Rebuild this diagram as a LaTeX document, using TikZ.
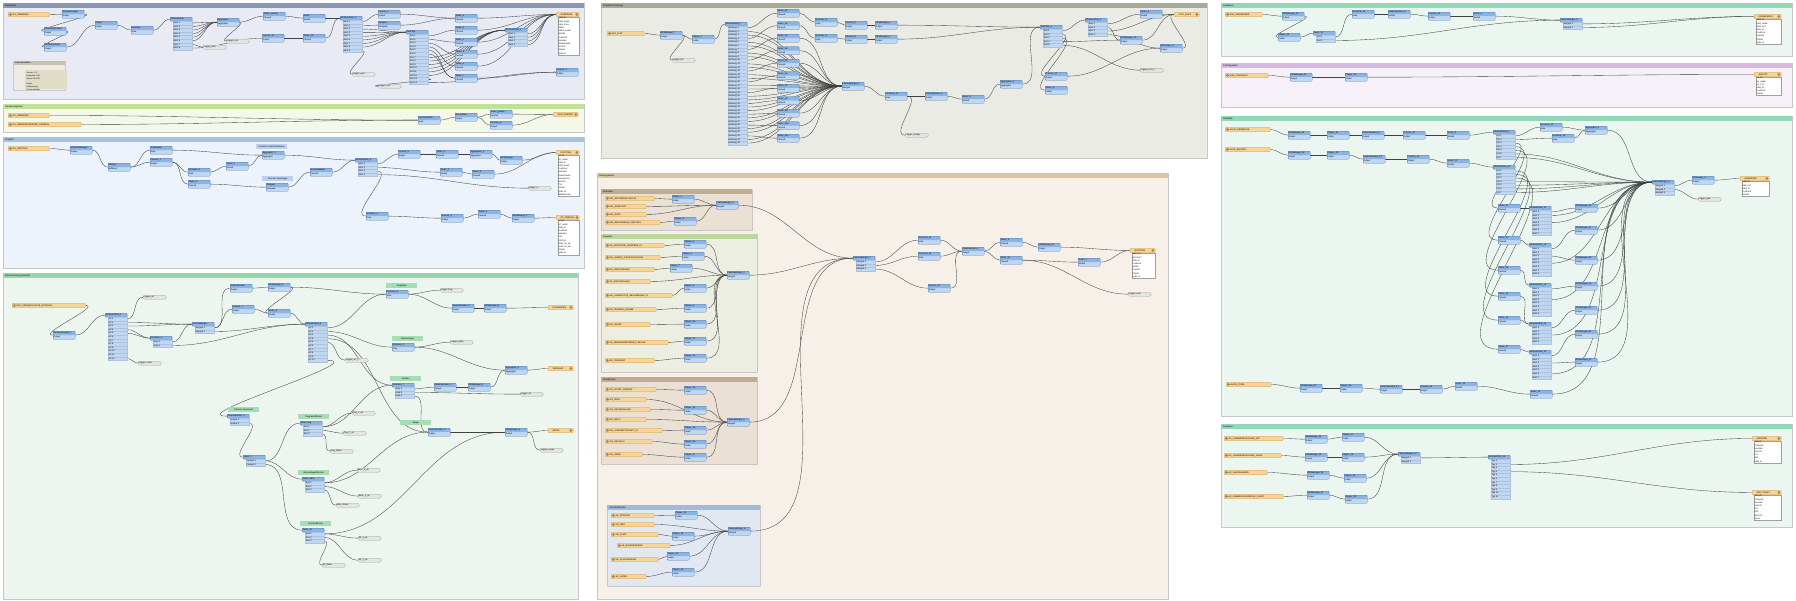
\documentclass[tikz,border=0pt]{standalone}
\usepackage{fontspec}
\setmainfont{Liberation Sans}
\usepackage{xcolor}
\usepackage{tikz}
\usetikzlibrary{positioning}
\definecolor{xfmhead}{RGB}{139, 180, 226}
\definecolor{xfmport}{RGB}{192, 215, 242}
\definecolor{xfmline}{RGB}{80, 120, 176}
\definecolor{rdrfill}{RGB}{247, 213, 152}
\definecolor{rdrline}{RGB}{204, 160, 88}
\definecolor{rdricon}{RGB}{168, 132, 78}
\definecolor{inspfill}{RGB}{228, 228, 225}
\definecolor{inspline}{RGB}{160, 160, 160}
\definecolor{notefill}{RGB}{166, 221, 180}
\definecolor{noteblue}{RGB}{186, 210, 238}
\definecolor{linkcol}{RGB}{65, 65, 65}
\definecolor{annhd}{RGB}{200, 195, 176}
\definecolor{annbg}{RGB}{236, 234, 226}
\definecolor{anntext}{RGB}{224, 219, 198}
\definecolor{hdA}{RGB}{140, 152, 178}
\definecolor{bgA}{RGB}{232, 235, 243}
\definecolor{hdB}{RGB}{192, 226, 150}
\definecolor{bgB}{RGB}{244, 248, 233}
\definecolor{hdC}{RGB}{163, 194, 226}
\definecolor{bgC}{RGB}{236, 243, 251}
\definecolor{hdD}{RGB}{150, 214, 172}
\definecolor{bgD}{RGB}{236, 246, 239}
\definecolor{hdE}{RGB}{168, 168, 156}
\definecolor{bgE}{RGB}{235, 235, 229}
\definecolor{hdF}{RGB}{214, 198, 162}
\definecolor{bgF}{RGB}{246, 240, 233}
\definecolor{hdG}{RGB}{190, 172, 148}
\definecolor{bgG}{RGB}{234, 224, 212}
\definecolor{hdH}{RGB}{188, 214, 160}
\definecolor{bgH}{RGB}{235, 238, 224}
\definecolor{hdI}{RGB}{160, 186, 222}
\definecolor{bgI}{RGB}{226, 232, 242}
\definecolor{hdJ}{RGB}{148, 214, 184}
\definecolor{bgJ}{RGB}{235, 246, 241}
\definecolor{hdK}{RGB}{214, 186, 226}
\definecolor{bgK}{RGB}{246, 241, 249}
\pgfdeclarelayer{bkmlayer}
\pgfdeclarelayer{linklayer}
\pgfsetlayers{bkmlayer,linklayer,main}

\begin{document}
\begin{tikzpicture}[
        x=1pt, y=-1pt,
        every node/.style={font=\fontsize{2.2}{2.7}\selectfont, inner sep=0.5pt},
        bkm/.style={draw=black!22, line width=0.3pt},
        bkmtitle/.style={anchor=west, inner sep=0pt, font=\fontsize{2.3}{2.7}\selectfont},
        xfm/.style={rectangle, draw=xfmline, fill=xfmport, line width=0.3pt, rounded corners=0.8pt, anchor=north west, text width=21pt, minimum height=8pt, align=left, font=\fontsize{2.2}{4}\selectfont, path picture={\fill[xfmhead] (path picture bounding box.north west) rectangle (path picture bounding box.east);}},
        xhead/.style={rectangle, draw=xfmline, fill=xfmhead, line width=0.3pt, rounded corners=0.8pt, anchor=north west, text width=21pt, minimum height=4pt, text height=1.6pt, text depth=0.4pt, align=left},
        xport/.style={rectangle, draw=xfmline!45, fill=xfmport, line width=0.15pt, anchor=north west, text width=18pt, minimum height=3.6pt, text height=1.6pt, text depth=0.4pt, align=left},
        rdr/.style={rectangle, draw=rdrline, fill=rdrfill, line width=0.3pt, rounded corners=1pt, anchor=north west, text width=#1, minimum height=4.6pt, text height=1.6pt, text depth=0.4pt, align=left, execute at begin node={\hspace*{4pt}}, path picture={\fill[rdricon] ([xshift=2.3pt]path picture bounding box.west) circle (1.5pt);}},
        wtr/.style={rdr=#1, path picture={\fill[rdricon] ([xshift=-2.3pt]path picture bounding box.east) circle (1.5pt);}},
        attr/.style={rectangle, draw=inspline, fill=white, line width=0.2pt, text width=#1, align=left, font=\fontsize{1.9}{3.2}\selectfont},
        insp/.style={rectangle, draw=inspline, fill=inspfill, line width=0.3pt, rounded corners=1.5pt, anchor=north west, text width=22pt, minimum height=4pt, text height=1.6pt, text depth=0.4pt, align=left},
        note/.style={rectangle, fill=notefill, anchor=north west, text width=30pt, minimum height=4.5pt, text height=1.6pt, text depth=0.4pt, align=center},
        link/.style={draw=linkcol, line width=0.35pt, out=0, in=180}
    ]
        \useasboundingbox (0,0) rectangle (1796,600);

        % Bookmarks
        \begin{pgfonlayer}{bkmlayer}
            \fill[white] (0,0) rectangle (1796,600);
            \draw[bkm, fill=bgA] (3,3) rectangle (584,99);
            \fill[hdA] (3,3) rectangle (584,8);
            \draw[bkm, fill=annbg] (13,61) rectangle (65,90);
            \fill[annhd] (13,61) rectangle (65,64.5);
            \fill[anntext] (25,70) rectangle (67,89);
            \draw[bkm, fill=bgB] (3,104) rectangle (584,132);
            \fill[hdB] (3,104) rectangle (584,109);
            \draw[bkm, fill=bgC] (3,137) rectangle (584,268);
            \fill[hdC] (3,137) rectangle (584,142);
            \draw[bkm, fill=bgD] (3,273) rectangle (578,599.5);
            \fill[hdD] (3,273) rectangle (578,278);
            \draw[bkm, fill=bgE] (601,3) rectangle (1207,158);
            \fill[hdE] (601,3) rectangle (1207,8);
            \draw[bkm, fill=bgF] (597,173) rectangle (1168,599.5);
            \fill[hdF] (597,173) rectangle (1168,178);
            \draw[bkm, fill=bgG] (601,189) rectangle (752,230);
            \fill[hdG] (601,189) rectangle (752,194);
            \draw[bkm, fill=bgH] (601,234) rectangle (757,372);
            \fill[hdH] (601,234) rectangle (757,239);
            \draw[bkm, fill=bgG] (601,377) rectangle (757,464);
            \fill[hdG] (601,377) rectangle (757,382);
            \draw[bkm, fill=bgI] (607,505) rectangle (760,586);
            \fill[hdI] (607,505) rectangle (760,510);
            \draw[bkm, fill=bgJ] (1221,3) rectangle (1792,56);
            \fill[hdJ] (1221,3) rectangle (1792,8);
            \draw[bkm, fill=bgK] (1221,63) rectangle (1792,107);
            \fill[hdK] (1221,63) rectangle (1792,68);
            \draw[bkm, fill=bgJ] (1221,116) rectangle (1792,416);
            \fill[hdJ] (1221,116) rectangle (1792,121);
            \draw[bkm, fill=bgJ] (1221,424) rectangle (1792,527);
            \fill[hdJ] (1221,424) rectangle (1792,429);
        \end{pgfonlayer}

        % Gemeinde
        \node (bkA) [bkmtitle] at (5,5.5) {Gemeinde};
        \node (bkAnn) [bkmtitle] at (15,62.8) {Dokumentation};
        \node (gNote) [anchor=north west, align=left, font=\fontsize{1.9}{3}\selectfont] at (26,71) {Version: 1.3\\Bearbeiter: GIS\\Stand: 03.2019\\[2pt]Zweck:\\Aufbereitung\\Gemeindedaten};
        \node (gRd) [rdr=40pt] at (8,12) {GS\_GEMEINDE};
        \node (g1) [xfm] at (62,10) {AttributeKeeper\\Output};
        \node (g2) [xfm] at (44,27) {AttributeRenamer\\Output};
        \node (g3) [xfm] at (44,43) {AttributeCreator\\Output};
        \node (g4) [xfm] at (95,21) {Clipper\\Inside};
        \node (g5) [xfm] at (131,26) {Dissolver\\Area};
        \node (gF) [xhead] at (170,17) {AttributeFilter};
        \foreach \i in {1,...,8}
            \node (gF-\i) [xport] at (173,{17.4+3.6*\i}) {Wert \i};
        \node (g6) [xfm] at (217,18) {Aggregator\\Aggregate};
        \node (gI1) [insp] at (203,45) {Logger\_filter};
        \node (gI2) [insp] at (226,39) {Logger\_rest};
        \node (g7) [xfm] at (263,12) {Tester\_umring\\Passed};
        \node (g8) [xfm] at (262,34) {Counter\_10\\Output};
        \node (g9) [xfm] at (303,14) {Sorter\\Sorted};
        \node (g10) [xfm] at (303,34) {Tester\_20\\Passed};
        \node (gF2) [xhead] at (340,16) {AttributeFilter\_2};
        \foreach \i in {1,...,9}
            \node (gF2-\i) [xport] at (343,{16.4+3.6*\i}) {Wert \i};
        \node (g11) [xfm] at (378,10) {Counter\_2\\Output};
        \node (g12) [xfm] at (378,21) {Sampler\\Sampled};
        \node (gF3) [xhead] at (406,30) {TestFilter};
        \foreach \i in {1,...,14}
            \node (gF3-\i) [xport] at (409,{30.4+3.6*\i}) {Test \i};
        \node (g13) [xfm] at (455,14) {Tester\_a\\Passed};
        \node (g14) [xfm] at (455,26) {Tester\_b\\Passed};
        \node (g15) [xfm] at (455,38) {Tester\_c\\Passed};
        \node (g16) [xfm] at (455,50) {Tester\_d\\Passed};
        \node (g17) [xfm] at (455,62) {Tester\_e\\Passed};
        \node (g18) [xfm] at (455,74) {Tester\_f\\Passed};
        \node (gF4) [xhead] at (505,28) {AttributeFilter\_3};
        \foreach \i in {1,...,4}
            \node (gF4-\i) [xport] at (508,{28.4+3.6*\i}) {Wert \i};
        \node (gW) [wtr=22pt] at (556,12) {GEMEINDE};
        \node (gWa) [attr=20pt, below=0pt of gW.south west, anchor=north west, xshift=2pt] {GEM\_ID\\GEM\_NAME\\GEM\_SCHL\\KREIS\\KREIS\_NAME\\BEZIRK\\FLAECHE\\UMFANG\\EINWOHNER\\DICHTE\\STAND\\QUELLE};
        \node (g19) [xfm] at (556,68) {Counter\_3\\Output};
        \node (gI3) [insp] at (352,72) {Logger\_wert};
        \node (gI4) [insp] at (378,84) {Logger\_test};

        % Gemeindegrenze
        \node (bkB) [bkmtitle] at (5,106.5) {Gemeindegrenze};
        \node (bRd1) [rdr=40pt] at (8,113) {GS\_GEMEINDE};
        \node (bRd2) [rdr=72pt] at (8,122) {GS\_GEMEINDEGRENZE\_GENERAL};
        \node (b1) [xfm] at (418,116) {GeometryFilter\\Area};
        \node (b2) [xfm] at (455,113) {Generalizer\\Output};
        \node (b3) [xfm] at (490,110) {Tester\_grenze\\Passed};
        \node (b4) [xfm] at (490,121) {Counter\_gr\\Output};
        \node (bW) [wtr=24pt] at (553,112) {GEM\_GRENZE};

        % Ortsteile
        \node (bkC) [bkmtitle] at (5,139.5) {Ortsteile};
        \node (sRd) [rdr=40pt] at (8,146) {GS\_ORTSTEIL};
        \node (s1) [xfm] at (70,146) {AttributeManager\\Output};
        \node (s2) [xfm] at (108,163) {Bufferer\\Buffered};
        \node (s3) [xfm] at (150,146) {AreaBuilder\\Area};
        \node (s4) [xfm] at (150,158) {Counter\_4\\Output};
        \node (s5) [xfm] at (188,168) {Dissolver\_2\\Area};
        \node (s6) [xfm] at (188,180) {Tester\_3\\Passed};
        \node (sN1) [note, fill=noteblue] at (256,144) {Ortsteile zusammenfassen};
        \node (s7) [xfm] at (262,151) {Aggregator\_2\\Aggregate};
        \node (s8) [xfm] at (226,162) {Sorter\_2\\Sorted};
        \node (sN2) [note, fill=noteblue] at (262,176) {Grenzen bereinigen};
        \node (s9) [xfm] at (266,183) {Snapper\\Snapped};
        \node (s11) [xfm] at (310,168) {GeomValidator\\Passed};
        \node (s10) [xhead] at (355,158) {AttributeFilter\_4};
        \foreach \i in {1,...,4}
            \node (s10-\i) [xport] at (358,{158.4+3.6*\i}) {Wert \i};
        \node (s12) [xfm] at (398,150) {Counter\_5\\Output};
        \node (s13) [xfm] at (436,150) {Tester\_4\\Passed};
        \node (s14) [xfm] at (440,168) {Sorter\_3\\Sorted};
        \node (s15) [xfm] at (472,170) {Tester\_5\\Passed};
        \node (s16) [xfm] at (470,150) {Aggregator\_3\\Aggregate};
        \node (s17) [xfm] at (500,156) {AttrManager\\Output};
        \node (sI1) [insp] at (528,186) {Logger\_ot};
        \node (sW1) [wtr=22pt] at (556,150) {ORTSTEIL};
        \node (sW1a) [attr=20pt, below=0pt of sW1.south west, anchor=north west, xshift=2pt] {OT\_ID\\OT\_NAME\\GEM\_ID\\GEM\_NAME\\FLAECHE\\UMFANG\\EINWOHNER\\HAUSHALTE\\DICHTE\\TYP\\STAND\\QUELLE\\BEMERKUNG};
        \node (s18) [xfm] at (366,212) {Dissolver\_3\\Area};
        \node (s19) [xfm] at (441,214) {Counter\_6\\Output};
        \node (s20) [xfm] at (478,210) {Tester\_6\\Passed};
        \node (s21) [xfm] at (512,214) {AttrManager\_2\\Output};
        \node (sW2) [wtr=22pt] at (556,215) {OT\_GRENZE};
        \node (sW2a) [attr=20pt, below=0pt of sW2.south west, anchor=north west, xshift=2pt] {OT\_ID\\OT\_NAME\\GEM\_ID\\FLAECHE\\UMFANG\\TYP\\STATUS\\GUELTIG\_AB\\GUELTIG\_BIS\\STAND\\QUELLE};

        % Flaechennutzung Verkehr
        \node (bkD) [bkmtitle] at (5,275.5) {Flächennutzung Verkehr};
        \node (hRd) [rdr=72pt] at (12,303) {NAS\_TATSAECHLICHE\_NUTZUNG};
        \node (h1) [xfm] at (53,331) {AttributeKeeper\_2\\Output};
        \node (hF) [xhead] at (105,313) {AttributeFilter\_5};
        \foreach \i in {1,...,12}
            \node (hF-\i) [xport] at (108,{313.4+3.6*\i}) {Art \i};
        \node (hI1) [insp] at (143,295) {Logger\_art};
        \node (hI2) [insp] at (138,361) {Logger\_sonst};
        \node (h2) [xhead] at (150,336) {Dissolver\_4};
        \foreach \i in {1,2}
            \node (h2-\i) [xport] at (153,{336.4+3.6*\i}) {Area \i};
        \node (h3) [xhead] at (192,322) {FeatureMerger};
        \foreach \i in {1,2}
            \node (h3-\i) [xport] at (195,{322.4+3.6*\i}) {Merged \i};
        \node (h4) [xfm] at (230,284) {AreaCalculator\\Output};
        \node (h5) [xfm] at (232,305) {Counter\_7\\Output};
        \node (h6) [xfm] at (268,283) {AttrManager\_3\\Output};
        \node (h7) [xfm] at (268,309) {Sorter\_4\\Sorted};
        \node (hN1) [note] at (386,283) {Flughafen};
        \node (h8) [xfm] at (386,290) {Dissolver\_5\\Area};
        \node (hI3) [insp] at (440,288) {Logger\_flug};
        \node (h9) [xfm] at (452,304) {AreaCalculator\_2\\Output};
        \node (h10) [xfm] at (484,304) {AttrManager\_4\\Output};
        \node (hW1) [wtr=24pt] at (548,305) {FLUGHAFEN};
        \node (hM) [xhead] at (305,322) {AttributeFilter\_6};
        \foreach \i in {1,...,10}
            \node (hM-\i) [xport] at (308,{322.4+3.6*\i}) {Art \i};
        \node (hI4) [insp] at (345,358) {Logger\_art\_2};
        \node (hN2) [note] at (392,336) {Bahnanlagen};
        \node (h11) [xfm] at (392,343) {Dissolver\_6\\Area};
        \node (hI5) [insp] at (450,340) {Logger\_bahn};
        \node (hN3) [note] at (390,376) {Straßen};
        \node (h12) [xhead] at (392,383) {Dissolver\_7};
        \foreach \i in {1,2,3}
            \node (h12-\i) [xport] at (395,{383.4+3.6*\i}) {Area \i};
        \node (h13) [xfm] at (434,383) {AreaCalculator\_3\\Output};
        \node (h14) [xfm] at (468,383) {AttrManager\_5\\Output};
        \node (h15) [xfm] at (505,366) {Aggregator\_4\\Aggregate};
        \node (hW2) [wtr=24pt] at (548,366) {VERKEHR};
        \node (hI6) [insp] at (520,392) {Logger\_str};
        \node (hN4) [note] at (400,420) {Wege};
        \node (h16) [xfm] at (428,428) {AreaCalculator\_4\\Output};
        \node (h17) [xfm] at (505,428) {AttrManager\_6\\Output};
        \node (hW3) [wtr=24pt] at (548,428) {WEGE};
        \node (hI7) [insp] at (540,448) {Logger\_wege};
        \node (hN5) [note] at (228,407) {Flächen berechnen};
        \node (hX) [xhead] at (227,414) {AreaCalculator\_5};
        \foreach \i in {1,2}
            \node (hX-\i) [xport] at (230,{414.4+3.6*\i}) {Output \i};
        \node (hY) [xhead] at (243,455) {Tester\_7};
        \foreach \i in {1,2}
            \node (hY-\i) [xport] at (246,{455.4+3.6*\i}) {Passed \i};
        \node (hN6) [note] at (298,414) {Flughafenflächen};
        \node (hZ1) [xhead] at (300,421) {Tester\_flug};
        \foreach \i in {1,2,3}
            \node (hZ1-\i) [xport] at (303,{421.4+3.6*\i}) {Test \i};
        \node (hI8) [insp] at (352,411) {Flug\_1\_ok};
        \node (hI9) [insp] at (343,431) {Flug\_2\_ok};
        \node (hI10) [insp] at (330,449) {Flug\_fehler};
        \node (hN7) [note] at (298,470) {Bahnanlagenflächen};
        \node (hZ2) [xhead] at (302,477) {Tester\_bahn};
        \foreach \i in {1,2,3}
            \node (hZ2-\i) [xport] at (305,{477.4+3.6*\i}) {Test \i};
        \node (hI11) [insp] at (357,468) {Bahn\_1\_ok};
        \node (hI12) [insp] at (358,494) {Bahn\_2\_ok};
        \node (hI13) [insp] at (336,503) {Bahn\_fehler};
        \node (hN8) [note] at (300,521) {Straßenflächen};
        \node (hZ3) [xhead] at (302,528) {Tester\_str};
        \foreach \i in {1,2,3}
            \node (hZ3-\i) [xport] at (305,{528.4+3.6*\i}) {Test \i};
        \node (hI14) [insp] at (358,536) {Str\_1\_ok};
        \node (hI15) [insp] at (358,558) {Str\_2\_ok};
        \node (hI16) [insp] at (322,563) {Str\_fehler};

        % Flurstuecke Nutzung
        \node (bkE) [bkmtitle] at (603,5.5) {Flurstücke Nutzung};
        \node (aRd) [rdr=36pt] at (607,31) {NAS\_FLST};
        \node (a1) [xfm] at (660,31) {AttrManager\_7\\Output};
        \node (a2) [xfm] at (692,35) {Clipper\_2\\Inside};
        \node (aI1) [insp] at (672,58) {Logger\_flst};
        \node (aF) [xhead] at (725,22) {AttributeFilter\_7};
        \foreach \i in {1,...,33}
            \node (aF-\i) [xport] at (728,{22.4+3.6*\i}) {Nutzung \i};
        \foreach \k in {1,...,11}
            \node (aC\k) [xfm] at (777,{9+12.5*(\k-1)}) {Tester\_N\k\\Passed};
        \node (a3) [xfm] at (815,18) {Dissolver\_8\\Area};
        \node (a4) [xfm] at (815,34) {Dissolver\_9\\Area};
        \node (a5) [xfm] at (845,21) {Counter\_8\\Output};
        \node (a6) [xfm] at (845,35) {Counter\_9\\Output};
        \node (a7) [xfm] at (875,21) {AttrManager\_8\\Output};
        \node (a8) [xfm] at (875,35) {AttrManager\_9\\Output};
        \node (aM) [xfm] at (842,82) {FeatureMerger\_2\\Merged};
        \node (a9) [xfm] at (885,92) {Dissolver\_10\\Area};
        \node (aI2) [insp] at (905,133) {Logger\_merge};
        \node (a10) [xfm] at (925,92) {AreaCalculator\_6\\Output};
        \node (a11) [xfm] at (962,95) {Sorter\_5\\Sorted};
        \node (a12) [xfm] at (1000,80) {Aggregator\_5\\Aggregate};
        \node (aF2) [xhead] at (1040,25) {TestFilter\_2};
        \foreach \i in {1,...,5}
            \node (aF2-\i) [xport] at (1043,{25.4+3.6*\i}) {Test \i};
        \node (a14) [xfm] at (1045,72) {Counter\_10\\Output};
        \node (a15) [xfm] at (1045,86) {Tester\_8\\Failed};
        \node (aF3) [xhead] at (1085,18) {AttributeFilter\_8};
        \foreach \i in {1,...,4}
            \node (aF3-\i) [xport] at (1088,{18.4+3.6*\i}) {Wert \i};
        \node (a16) [xfm] at (1120,36) {AttrManager\_10\\Output};
        \node (a17) [xfm] at (1140,10) {Sorter\_6\\Sorted};
        \node (aW) [wtr=24pt] at (1174,12) {FLST\_NUTZ};
        \node (a18) [xfm] at (1160,44) {AttrKeeper\_3\\Output};
        \node (aI3) [insp] at (1140,68) {Logger\_rest\_2};

        % Nutzungsarten
        \node (bkF) [bkmtitle] at (599,175.5) {Nutzungsarten};
        \node (bkF1) [bkmtitle] at (603,191.5) {Wohnbau};
        \node (bkF2) [bkmtitle] at (603,236.5) {Gewerbe};
        \node (bkF3) [bkmtitle] at (603,379.5) {Grünflächen};
        \node (bkF4) [bkmtitle] at (609,507.5) {Verkehrsflächen};
        \node (mR1) [rdr=48pt] at (605,196) {WO\_WOHNBAUFLAECHE};
        \node (mR2) [rdr=40pt] at (605,204) {WO\_GEMISCHT};
        \node (mR3) [rdr=40pt] at (605,212) {WO\_DORF};
        \node (mR4) [rdr=54pt] at (605,220) {WO\_BESONDERE\_FUNKTION};
        \node (m1) [xfm] at (672,195) {Clipper\_3\\Inside};
        \node (m2) [xfm] at (674,217) {Clipper\_4\\Inside};
        \node (mK1) [xfm] at (716,201) {FeatureMerger\_3\\Merged};
        \node (mR5) [rdr=58pt] at (605,243) {GE\_INDUSTRIE\_GEWERBE\_FL};
        \node (mR6) [rdr=54pt] at (605,255) {GE\_HANDEL\_DIENSTLEISTUNG};
        \node (mR7) [rdr=48pt] at (605,267) {GE\_VERSORGUNG};
        \node (mR8) [rdr=44pt] at (605,279) {GE\_ENTSORGUNG};
        \node (mR9) [rdr=66pt] at (605,293) {GE\_LAGERPLATZ\_ABLAGERUNG\_FL};
        \node (mR10) [rdr=50pt] at (605,307) {GE\_TAGEBAU\_GRUBE};
        \node (mR11) [rdr=44pt] at (605,322) {GE\_HALDE};
        \node (mR12) [rdr=62pt] at (605,340) {GE\_BERGBAUBETRIEB\_FLAECHE};
        \node (mR13) [rdr=48pt] at (605,358) {GE\_FRIEDHOF};
        \node (m3) [xfm] at (684,240) {Clipper\_5\\Inside};
        \node (m4) [xfm] at (682,252) {Clipper\_6\\Inside};
        \node (m5) [xfm] at (670,264) {Clipper\_7\\Inside};
        \node (m6) [xfm] at (684,284) {Clipper\_8\\Inside};
        \node (m7) [xfm] at (684,304) {Clipper\_9\\Inside};
        \node (m8) [xfm] at (684,320) {Clipper\_10\\Inside};
        \node (m9) [xfm] at (684,337) {Clipper\_11\\Inside};
        \node (m10) [xfm] at (684,354) {Clipper\_12\\Inside};
        \node (mK2) [xfm] at (727,271) {FeatureMerger\_4\\Merged};
        \node (mR14) [rdr=50pt] at (605,387) {GR\_SPORT\_FREIZEIT};
        \node (mR15) [rdr=40pt] at (605,397) {GR\_PARK};
        \node (mR16) [rdr=44pt] at (605,407) {GR\_GRUENANLAGE};
        \node (mR17) [rdr=40pt] at (605,417) {GR\_WALD};
        \node (mR18) [rdr=56pt] at (605,428) {GR\_LANDWIRTSCHAFT\_FL};
        \node (mR19) [rdr=46pt] at (605,439) {GR\_GEHOELZ};
        \node (mR20) [rdr=36pt] at (605,452) {GR\_HEIDE};
        \node (m11) [xfm] at (684,386) {Clipper\_13\\Inside};
        \node (m12) [xfm] at (684,406) {Clipper\_14\\Inside};
        \node (m13) [xfm] at (684,426) {Clipper\_15\\Inside};
        \node (m14) [xfm] at (684,440) {Clipper\_16\\Inside};
        \node (m15) [xfm] at (684,453) {Clipper\_17\\Inside};
        \node (mK3) [xfm] at (727,418) {FeatureMerger\_5\\Merged};
        \node (mR21) [rdr=42pt] at (611,513) {VE\_STRASSE};
        \node (mR22) [rdr=42pt] at (611,522) {VE\_WEG};
        \node (mR23) [rdr=46pt] at (611,532) {VE\_PLATZ};
        \node (mR24) [rdr=52pt] at (617,543) {VE\_BAHNVERKEHR};
        \node (mR25) [rdr=46pt] at (611,557) {VE\_FLUGVERKEHR};
        \node (mR26) [rdr=34pt] at (611,574) {VE\_HAFEN};
        \node (m16) [xfm] at (675,511) {Clipper\_18\\Inside};
        \node (m17) [xfm] at (672,532) {Clipper\_19\\Inside};
        \node (m18) [xfm] at (667,552) {Clipper\_20\\Inside};
        \node (m19) [xfm] at (672,568) {Clipper\_21\\Inside};
        \node (mK4) [xfm] at (728,527) {FeatureMerger\_6\\Merged};
        \node (mM) [xhead] at (853,256) {FeatureMerger\_7};
        \foreach \i in {1,2,3}
            \node (mM-\i) [xport] at (856,{256.4+3.6*\i}) {Merged \i};
        \node (m20) [xfm] at (918,236) {Dissolver\_11\\Area};
        \node (m21) [xfm] at (918,252) {Dissolver\_12\\Area};
        \node (m22) [xfm] at (928,284) {Counter\_11\\Output};
        \node (m23) [xfm] at (962,247) {AreaCalculator\_7\\Output};
        \node (m24) [xfm] at (1000,238) {Tester\_9\\Passed};
        \node (m25) [xfm] at (1000,256) {Tester\_10\\Passed};
        \node (m26) [xfm] at (1038,243) {AttrManager\_11\\Output};
        \node (m27) [xfm] at (1078,258) {Sorter\_7\\Sorted};
        \node (mW) [wtr=24pt] at (1130,248) {NUTZUNG};
        \node (mWa) [attr=22pt, below=0pt of mW.south west, anchor=north west, xshift=2pt] {NUTZ\_ID\\NUTZART\\GEM\_ID\\FLAECHE\\ANTEIL\\KLASSE\\STAND\\QUELLE};
        \node (mI1) [insp] at (1128,292) {Logger\_nutz};

        % Gewaesser
        \node (bkG) [bkmtitle] at (1223,5.5) {Gewässer};
        \node (nRd) [rdr=36pt] at (1225,12) {NAS\_GEWAESSER};
        \node (n1) [xfm] at (1282,12) {AttrManager\_12\\Output};
        \node (n2) [xfm] at (1278,33) {Clipper\_22\\Inside};
        \node (n3) [xhead] at (1313,31) {Tester\_11};
        \foreach \i in {1,2}
            \node (n3-\i) [xport] at (1316,{31.4+3.6*\i}) {Test \i};
        \node (n4) [xfm] at (1352,10) {Dissolver\_13\\Area};
        \node (n5) [xfm] at (1388,10) {AreaCalculator\_8\\Output};
        \node (n6) [xfm] at (1428,12) {Counter\_12\\Output};
        \node (n7) [xfm] at (1473,12) {Sorter\_8\\Sorted};
        \node (n8) [xhead] at (1560,18) {FeatureMerger\_8};
        \foreach \i in {1,2}
            \node (n8-\i) [xport] at (1563,{18.4+3.6*\i}) {Merged \i};
        \node (nW) [wtr=26pt] at (1754,14) {GEWAESSER};
        \node (nWa) [attr=24pt, below=0pt of nW.south west, anchor=north west, xshift=2pt] {GEW\_ID\\GEW\_NAME\\GEW\_ART\\GEM\_ID\\FLAECHE\\LAENGE\\STAND\\QUELLE};

        % Schutzgebiete
        \node (bkH) [bkmtitle] at (1223,65.5) {Schutzgebiete};
        \node (pRd) [rdr=42pt] at (1225,73) {NSG\_FLAECHEN};
        \node (p1) [xfm] at (1290,73) {AttrManager\_13\\Output};
        \node (p2) [xfm] at (1345,73) {Clipper\_23\\Inside};
        \node (pW) [wtr=26pt] at (1754,72) {SCHUTZ};
        \node (pWa) [attr=24pt, below=0pt of pW.south west, anchor=north west, xshift=2pt] {SG\_ID\\SG\_NAME\\SG\_TYP\\GEM\_ID\\FLAECHE\\STAND};

        % Gebaeude
        \node (bkI) [bkmtitle] at (1223,118.5) {Gebäude};
        \node (rRd1) [rdr=44pt] at (1225,127) {ALKIS\_GEBAEUDE};
        \node (rRd2) [rdr=44pt] at (1225,147) {ALKIS\_BAUTEIL};
        \node (r1) [xfm] at (1288,131) {AttrManager\_14\\Output};
        \node (r2) [xfm] at (1327,131) {Clipper\_24\\Inside};
        \node (r3) [xfm] at (1362,131) {AreaCalculator\_9\\Output};
        \node (r4) [xfm] at (1403,131) {Counter\_13\\Output};
        \node (r5) [xfm] at (1447,131) {Sorter\_9\\Sorted};
        \node (rF1) [xhead] at (1493,130) {AttributeFilter\_9};
        \foreach \i in {1,...,7}
            \node (rF1-\i) [xport] at (1496,{130.4+3.6*\i}) {Fkt \i};
        \node (r6) [xfm] at (1288,151) {AttrManager\_15\\Output};
        \node (r7) [xfm] at (1327,151) {Clipper\_25\\Inside};
        \node (r8) [xfm] at (1363,155) {AreaCalculator\_10\\Output};
        \node (r9) [xfm] at (1407,155) {Counter\_14\\Output};
        \node (r10) [xfm] at (1447,159) {Sorter\_10\\Sorted};
        \node (rF2) [xhead] at (1493,165) {AttributeFilter\_10};
        \foreach \i in {1,...,7}
            \node (rF2-\i) [xport] at (1496,{165.4+3.6*\i}) {Fkt \i};
        \node (r11) [xfm] at (1540,123) {Dissolver\_14\\Area};
        \node (r12) [xfm] at (1552,134) {Dissolver\_15\\Area};
        \node (r13) [xfm] at (1585,126) {Aggregator\_6\\Aggregate};
        \node (rS1) [xfm] at (1498,204) {Tester\_12\\Passed};
        \node (rS2) [xfm] at (1498,236) {Tester\_13\\Passed};
        \node (rS3) [xfm] at (1498,266) {Tester\_14\\Passed};
        \node (rS4) [xfm] at (1498,292) {Tester\_15\\Passed};
        \node (rS5) [xfm] at (1498,316) {Tester\_16\\Passed};
        \node (rS6) [xfm] at (1498,345) {Tester\_17\\Passed};
        \node (rC1) [xhead] at (1529,206) {AttributeFilter\_11};
        \foreach \i in {1,...,7}
            \node (rC1-\i) [xport] at (1532,{206.4+3.6*\i}) {Wert \i};
        \node (rC2) [xhead] at (1529,243) {AttributeFilter\_12};
        \foreach \i in {1,...,8}
            \node (rC2-\i) [xport] at (1532,{243.4+3.6*\i}) {Wert \i};
        \node (rC3) [xhead] at (1529,283) {AttributeFilter\_13};
        \foreach \i in {1,...,8}
            \node (rC3-\i) [xport] at (1532,{283.4+3.6*\i}) {Wert \i};
        \node (rC4) [xhead] at (1529,322) {AttributeFilter\_14};
        \foreach \i in {1,...,5}
            \node (rC4-\i) [xport] at (1532,{322.4+3.6*\i}) {Wert \i};
        \node (rC5) [xhead] at (1529,350) {AttributeFilter\_15};
        \foreach \i in {1,...,7}
            \node (rC5-\i) [xport] at (1532,{350.4+3.6*\i}) {Wert \i};
        \node (rT1) [xfm] at (1575,204) {AttrManager\_16\\Output};
        \node (rT2) [xfm] at (1575,226) {AttrManager\_17\\Output};
        \node (rT3) [xfm] at (1575,256) {AttrManager\_18\\Output};
        \node (rT4) [xfm] at (1575,282) {AttrManager\_19\\Output};
        \node (rT5) [xfm] at (1575,306) {AttrManager\_20\\Output};
        \node (rT6) [xfm] at (1575,330) {AttrManager\_21\\Output};
        \node (rT7) [xfm] at (1575,358) {AttrManager\_22\\Output};
        \node (rM) [xhead] at (1652,180) {FeatureMerger\_9};
        \foreach \i in {1,2,3}
            \node (rM-\i) [xport] at (1655,{180.4+3.6*\i}) {Merged \i};
        \node (r14) [xfm] at (1692,176) {AttrKeeper\_4\\Output};
        \node (rW) [wtr=28pt] at (1740,176) {GEBAEUDE};
        \node (rWa) [attr=26pt, below=0pt of rW.south west, anchor=north west, xshift=2pt] {GEB\_ID\\GEB\_FKT\\GEM\_ID\\FLAECHE\\STAND};
        \node (rI1) [insp] at (1698,197) {Logger\_geb};
        \node (rRd3) [rdr=44pt] at (1226,382) {ALKIS\_TURM};
        \node (r15) [xfm] at (1300,384) {AttrManager\_23\\Output};
        \node (r16) [xfm] at (1340,384) {Clipper\_26\\Inside};
        \node (r17) [xfm] at (1380,385) {AreaCalculator\_11\\Output};
        \node (r18) [xfm] at (1420,385) {Counter\_15\\Output};
        \node (r19) [xfm] at (1455,382) {Sorter\_11\\Sorted};
        \node (r20) [xfm] at (1530,390) {Tester\_18\\Passed};

        % Adressen
        \node (bkJ) [bkmtitle] at (1223,426.5) {Adressen};
        \node (eRd1) [rdr=58pt] at (1224,436) {AX\_LAGEBEZEICHNUNG\_MIT};
        \node (eRd2) [rdr=56pt] at (1224,453) {AX\_LAGEBEZEICHNUNG\_OHNE};
        \node (eRd3) [rdr=42pt] at (1224,470) {AX\_HAUSNUMMER};
        \node (eRd4) [rdr=58pt] at (1224,494) {AX\_GEBAEUDEADRESSE\_PUNKT};
        \node (e1) [xfm] at (1305,435) {AttrManager\_24\\Output};
        \node (e2) [xfm] at (1342,433) {Clipper\_27\\Inside};
        \node (e3) [xfm] at (1305,453) {AttrManager\_25\\Output};
        \node (e4) [xfm] at (1342,453) {Clipper\_28\\Inside};
        \node (e5) [xfm] at (1307,471) {AttrManager\_26\\Output};
        \node (e6) [xfm] at (1344,474) {Clipper\_29\\Inside};
        \node (e7) [xfm] at (1307,491) {AttrManager\_27\\Output};
        \node (e8) [xfm] at (1345,495) {Clipper\_30\\Inside};
        \node (eM) [xhead] at (1398,452) {FeatureMerger\_10};
        \foreach \i in {1,2}
            \node (eM-\i) [xport] at (1401,{452.4+3.6*\i}) {Merged \i};
        \node (eF) [xhead] at (1488,455) {AttributeFilter\_16};
        \foreach \i in {1,...,11}
            \node (eF-\i) [xport] at (1491,{455.4+3.6*\i}) {Typ \i};
        \node (eW1) [wtr=28pt] at (1752,436) {ADRESSE};
        \node (eW1a) [attr=26pt, below=0pt of eW1.south west, anchor=north west, xshift=2pt] {ADR\_ID\\STRASSE\\HAUSNR\\ZUSATZ\\PLZ\\ORT\\GEM\_ID};
        \node (eW2) [wtr=28pt] at (1752,490) {ADR\_PUNKT};
        \node (eW2a) [attr=26pt, below=0pt of eW2.south west, anchor=north west, xshift=2pt] {ADR\_ID\\STRASSE\\HAUSNR\\ZUSATZ\\PLZ\\ORT\\RECHTS\\HOCH};

        % Links
        \begin{pgfonlayer}{linklayer}
            % Gemeinde
            \draw [link] (gRd.east) to (g1.west);
            \draw [link] (g1.east) to (g2.west);
            \draw [link] (g2.east) to (g3.west);
            \draw [link] (g3.east) to (g4.west);
            \draw [link] (g4.east) to (g5.west);
            \draw [link] (g5.east) to (gF.west);
            \foreach \i in {1,...,6}
                \draw [link] (gF-\i.east) to (g6.west);
            \draw [link] (gF-7.east) to (gI1.west);
            \draw [link] (gF-8.east) to (g8.west);
            \draw [link] (g6.east) to (g7.west);
            \draw [link] (g6.east) to (gI2.west);
            \draw [link] (g7.east) to (g9.west);
            \draw [link] (g8.east) to (g10.west);
            \draw [link] (g9.east) to (gF2.west);
            \draw [link] (g10.east) to (gF2.west);
            \draw [link] (gF2-1.east) to (g11.west);
            \draw [link] (gF2-2.east) to (g12.west);
            \foreach \i in {3,...,8}
                \draw [link] (gF2-\i.east) to (gF3.west);
            \draw [link] (gF2-9.east) to (gI3.west);
            \draw [link] (g11.east) to (g13.west);
            \draw [link] (g12.east) to (g13.west);
            \foreach \i/\j in {1/g14, 2/g15, 3/g16, 4/g17, 5/g18, 6/g18}
                \draw [link] (gF3-\i.east) to (\j.west);
            \foreach \i in {7,...,12}
                \draw [link] (gF3-\i.east) to (gF4.west);
            \draw [link] (gF3-13.east) to (gI4.west);
            \draw [link] (gF3-14.east) to (g19.west);
            \foreach \j in {g13, g14, g15, g16, g17}
                \draw [link] (\j.east) to (gW.west);
            \foreach \i in {1,...,4}
                \draw [link] (gF4-\i.east) to (gW.west);
            \draw [link] (g18.east) to (g19.west);
            % Gemeindegrenze
            \draw [link] (bRd1.east) to (b1.west);
            \draw [link] (bRd2.east) to (b1.west);
            \draw [link] (b1.east) to (b2.west);
            \draw [link] (b2.east) to (b3.west);
            \draw [link] (b2.east) to (b4.west);
            \draw [link] (b3.east) to (bW.west);
            \draw [link] (b4.east) to (bW.west);
            % Ortsteile
            \draw [link] (sRd.east) to (s1.west);
            \draw [link] (s1.east) to (s2.west);
            \draw [link] (s2.east) to (s3.west);
            \draw [link] (s2.east) to (s4.west);
            \draw [link] (s3.east) to (s7.west);
            \draw [link] (s4.east) to (s5.west);
            \draw [link] (s4.east) to (s6.west);
            \draw [link] (s5.east) to (s8.west);
            \draw [link] (s8.east) to (s7.west);
            \draw [link] (s6.east) to (s9.west);
            \draw [link] (s7.east) to (s10.west);
            \draw [link] (s9.east) to (s11.west);
            \draw [link] (s11.east) to (s10.west);
            \draw [link] (s10-1.east) to (s12.west);
            \draw [link] (s10-2.east) to (s14.west);
            \draw [link] (s10-3.east) to (s18.west);
            \draw [link] (s10-4.east) to (sI1.west);
            \draw [link] (s12.east) to (s13.west);
            \draw [link] (s13.east) to (s16.west);
            \draw [link] (s16.east) to (s17.west);
            \draw [link] (s17.east) to (sW1.west);
            \draw [link] (s14.east) to (s15.west);
            \draw [link] (s15.east) to (sW1.west);
            \draw [link] (s18.east) to (s19.west);
            \draw [link] (s19.east) to (s20.west);
            \draw [link] (s20.east) to (s21.west);
            \draw [link] (s21.east) to (sW2.west);
            % Flaechennutzung Verkehr
            \draw [link] (hRd.east) to (h1.west);
            \draw [link] (h1.east) to (hF.west);
            \draw [link] (hF-1.east) to (hI1.west);
            \draw [link] (hF-2.east) to (h3.west);
            \draw [link] (hF-3.east) to (h3.west);
            \draw [link] (hF-4.east) to (h2.west);
            \draw [link] (hF-5.east) to (h2.west);
            \draw [link] (hF-12.east) to (hI2.west);
            \draw [link] (h2-1.east) to (h3.west);
            \draw [link] (h2-2.east) to (hM.west);
            \draw [link] (h3-1.east) to (h4.west);
            \draw [link] (h3-1.east) to (h5.west);
            \draw [link] (h3-2.east) to (hM.west);
            \draw [link] (h4.east) to (h6.west);
            \draw [link] (h6.east) to (h7.west);
            \draw [link] (h5.east) to (h7.west);
            \draw [link] (h6.east) to (h8.west);
            \draw [link] (h7.east) to (hM.west);
            \draw [link] (h8.east) to (h9.west);
            \draw [link] (h8.east) to (hI3.west);
            \draw [link] (h9.east) to (h10.west);
            \draw [link] (h10.east) to (hW1.west);
            \draw [link] (hM-1.east) to (h8.west);
            \draw [link] (hM-2.east) to (h11.west);
            \draw [link] (hM-3.east) to (h12.west);
            \draw [link] (hM-4.east) to (h16.west);
            \draw [link] (hM-5.east) to (hI4.west);
            \draw [link] (hM-10.east) to (hX.west);
            \draw [link] (h11.east) to (h15.west);
            \draw [link] (h11.east) to (hI5.west);
            \draw [link] (h12-1.east) to (h13.west);
            \draw [link] (h12-2.east) to (hI6.west);
            \draw [link] (h12-3.east) to (h16.west);
            \draw [link] (h13.east) to (h14.west);
            \draw [link] (h14.east) to (h15.west);
            \draw [link] (h15.east) to (hW2.west);
            \draw [link] (h16.east) to (h17.west);
            \draw [link] (h17.east) to (hW3.west);
            \draw [link] (h17.east) to (hI7.west);
            \draw [link] (hX-2.east) to (hY.west);
            \draw [link] (hY-1.east) to (hZ1.west);
            \draw [link] (hY-1.east) to (hZ2.west);
            \draw [link] (hY-2.east) to (hZ3.west);
            \draw [link] (hZ1-1.east) to (hI8.west);
            \draw [link] (hZ1-2.east) to (hI9.west);
            \draw [link] (hZ1-3.east) to (hI10.west);
            \draw [link] (hZ1-1.east) to (h12.west);
            \draw [link] (hZ2-1.east) to (hI11.west);
            \draw [link] (hZ2-2.east) to (hI12.west);
            \draw [link] (hZ2-3.east) to (hI13.west);
            \draw [link] (hZ2-1.east) to (h16.west);
            \draw [link] (hZ3-1.east) to (hI14.west);
            \draw [link] (hZ3-2.east) to (hI15.west);
            \draw [link] (hZ3-3.east) to (hI16.west);
            \draw [link] (hZ3-1.east) to (h17.west);
            % Flurstuecke Nutzung
            \draw [link] (aRd.east) to (a1.west);
            \draw [link] (a1.east) to (a2.west);
            \draw [link] (a1.east) to (aI1.west);
            \draw [link] (a2.east) to (aF.west);
            \foreach \p/\k in {1/1, 4/2, 7/3, 10/4, 13/5, 16/6, 19/7, 22/8, 25/9, 28/10, 31/11}
                \draw [link] (aF-\p.east) to (aC\k.west);
            \foreach \p in {2,3,5,6,8,9,11,12,14,15,17,18,20,21,23,24,26,27,29,30,32,33}
                \draw [link] (aF-\p.east) to (aM.west);
            \draw [link] (aC1.east) to (a3.west);
            \draw [link] (aC2.east) to (a4.west);
            \draw [link] (a3.east) to (a5.west);
            \draw [link] (a4.east) to (a6.west);
            \draw [link] (a5.east) to (a7.west);
            \draw [link] (a6.east) to (a8.west);
            \foreach \k in {3,...,11}
                \draw [link] (aC\k.east) to (aM.west);
            \draw [link] (a7.east) to (aF2.west);
            \draw [link] (a8.east) to (aF2.west);
            \draw [link] (aM.east) to (a9.west);
            \draw [link] (a9.east) to (a10.west);
            \draw [link] (a9.east) to (aI2.west);
            \draw [link] (a10.east) to (a11.west);
            \draw [link] (a11.east) to (a12.west);
            \draw [link] (a12.east) to (aF2.west);
            \draw [link] (aF2-1.east) to (aF3.west);
            \draw [link] (aF2-2.east) to (a14.west);
            \draw [link] (aF2-3.east) to (a15.west);
            \draw [link] (aF2-4.east) to (a16.west);
            \draw [link] (aF2-5.east) to (aI3.west);
            \draw [link] (aF3-1.east) to (a17.west);
            \draw [link] (aF3-2.east) to (a16.west);
            \draw [link] (aF3-3.east) to (aW.west);
            \draw [link] (aF3-4.east) to (a18.west);
            \draw [link] (a17.east) to (aW.west);
            \draw [link] (a16.east) to (aW.west);
            \draw [link] (a14.east) to (a18.west);
            \draw [link] (a18.east) to (aW.west);
            % Nutzungsarten
            \draw [link] (mR1.east) to (m1.west);
            \draw [link] (mR2.east) to (mK1.west);
            \draw [link] (mR3.east) to (mK1.west);
            \draw [link] (mR4.east) to (m2.west);
            \draw [link] (m1.east) to (mK1.west);
            \draw [link] (m2.east) to (mK1.west);
            \foreach \r/\j in {mR5/m3, mR6/m4, mR7/m5, mR8/mK2, mR9/m6, mR10/m7, mR11/m8, mR12/m9, mR13/m10}
                \draw [link] (\r.east) to (\j.west);
            \foreach \j in {m3, m4, m5, m6, m7, m8, m9, m10}
                \draw [link] (\j.east) to (mK2.west);
            \foreach \r/\j in {mR14/m11, mR15/mK3, mR16/m12, mR17/mK3, mR18/m13, mR19/m14, mR20/m15}
                \draw [link] (\r.east) to (\j.west);
            \foreach \j in {m11, m12, m13, m14, m15}
                \draw [link] (\j.east) to (mK3.west);
            \foreach \r/\j in {mR21/m16, mR22/mK4, mR23/m17, mR24/mK4, mR25/m18, mR26/m19}
                \draw [link] (\r.east) to (\j.west);
            \foreach \j in {m16, m17, m18, m19}
                \draw [link] (\j.east) to (mK4.west);
            \foreach \j in {mK1, mK2, mK3, mK4}
                \draw [link] (\j.east) to (mM.west);
            \draw [link] (mM-1.east) to (m20.west);
            \draw [link] (mM-2.east) to (m21.west);
            \draw [link] (mM-3.east) to (m22.west);
            \draw [link] (m20.east) to (m23.west);
            \draw [link] (m21.east) to (m23.west);
            \draw [link] (m22.east) to (m23.west);
            \draw [link] (m23.east) to (m24.west);
            \draw [link] (m23.east) to (m25.west);
            \draw [link] (m24.east) to (m26.west);
            \draw [link] (m25.east) to (m27.west);
            \draw [link] (m26.east) to (mW.west);
            \draw [link] (m27.east) to (mW.west);
            \draw [link] (m25.east) to (mI1.west);
            % Gewaesser
            \draw [link] (nRd.east) to (n1.west);
            \draw [link] (n1.east) to (n2.west);
            \draw [link] (n2.east) to (n3.west);
            \draw [link] (n3-1.east) to (n4.west);
            \draw [link] (n4.east) to (n5.west);
            \draw [link] (n5.east) to (n6.west);
            \draw [link] (n6.east) to (n7.west);
            \draw [link] (n7.east) to (n8.west);
            \draw [link] (n3-2.east) to (n8.west);
            \draw [link] (n8-1.east) to (nW.west);
            \draw [link] (n8-2.east) to (nW.west);
            % Schutzgebiete
            \draw [link] (pRd.east) to (p1.west);
            \draw [link] (p1.east) to (p2.west);
            \draw [link] (p2.east) to (pW.west);
            % Gebaeude
            \draw [link] (rRd1.east) to (r1.west);
            \draw [link] (r1.east) to (r2.west);
            \draw [link] (r2.east) to (r3.west);
            \draw [link] (r3.east) to (r4.west);
            \draw [link] (r4.east) to (r5.west);
            \draw [link] (r5.east) to (rF1.west);
            \draw [link] (rRd2.east) to (r6.west);
            \draw [link] (r6.east) to (r7.west);
            \draw [link] (r7.east) to (r8.west);
            \draw [link] (r8.east) to (r9.west);
            \draw [link] (r9.east) to (r10.west);
            \draw [link] (r10.east) to (rF2.west);
            \draw [link] (rF1-1.east) to (r11.west);
            \draw [link] (rF1-2.east) to (r12.west);
            \draw [link] (r11.east) to (r13.west);
            \draw [link] (r12.east) to (r13.west);
            \draw [link] (r13.east) to (rM.west);
            \foreach \i/\j in {3/rS1, 4/rS2, 5/rS3, 6/rM, 7/rM}
                \draw [link] (rF1-\i.east) to (\j.west);
            \foreach \i/\j in {1/rS4, 2/rS5, 3/rS6, 4/rM, 5/rM, 6/rM, 7/rM}
                \draw [link] (rF2-\i.east) to (\j.west);
            \foreach \s/\j in {rS1/rC1, rS2/rC2, rS3/rC3, rS4/rC4, rS5/rC4, rS6/rC5}
                \draw [link] (\s.east) to (\j.west);
            \foreach \p/\j in {rC1-1/rT1, rC1-2/rM, rC1-4/rM, rC2-1/rT2, rC2-3/rT3, rC2-5/rM, rC3-1/rT4, rC3-4/rM, rC4-1/rT5, rC4-3/rM, rC5-1/rT6, rC5-3/rT7, rC5-6/rM}
                \draw [link] (\p.east) to (\j.west);
            \foreach \j in {rT1, rT2, rT3, rT4, rT5, rT6, rT7}
                \draw [link] (\j.east) to (rM.west);
            \draw [link] (rM-1.east) to (r14.west);
            \draw [link] (r14.east) to (rW.west);
            \draw [link] (rM-2.east) to (rI1.west);
            \draw [link] (rRd3.east) to (r15.west);
            \draw [link] (r15.east) to (r16.west);
            \draw [link] (r16.east) to (r17.west);
            \draw [link] (r17.east) to (r18.west);
            \draw [link] (r18.east) to (r19.west);
            \draw [link] (r19.east) to (r20.west);
            \draw [link] (r20.east) to (rM.west);
            % Adressen
            \draw [link] (eRd1.east) to (e1.west);
            \draw [link] (e1.east) to (e2.west);
            \draw [link] (eRd2.east) to (e3.west);
            \draw [link] (e3.east) to (e4.west);
            \draw [link] (eRd3.east) to (e5.west);
            \draw [link] (e5.east) to (e6.west);
            \draw [link] (eRd4.east) to (e7.west);
            \draw [link] (e7.east) to (e8.west);
            \foreach \j in {e2, e4, e6, e8}
                \draw [link] (\j.east) to (eM.west);
            \draw [link] (eM-1.east) to (eF.west);
            \draw [link] (eF-2.east) to (eW1.west);
            \draw [link] (eF-4.east) to (eW2.west);
        \end{pgfonlayer}
    \end{tikzpicture}
\end{document}
